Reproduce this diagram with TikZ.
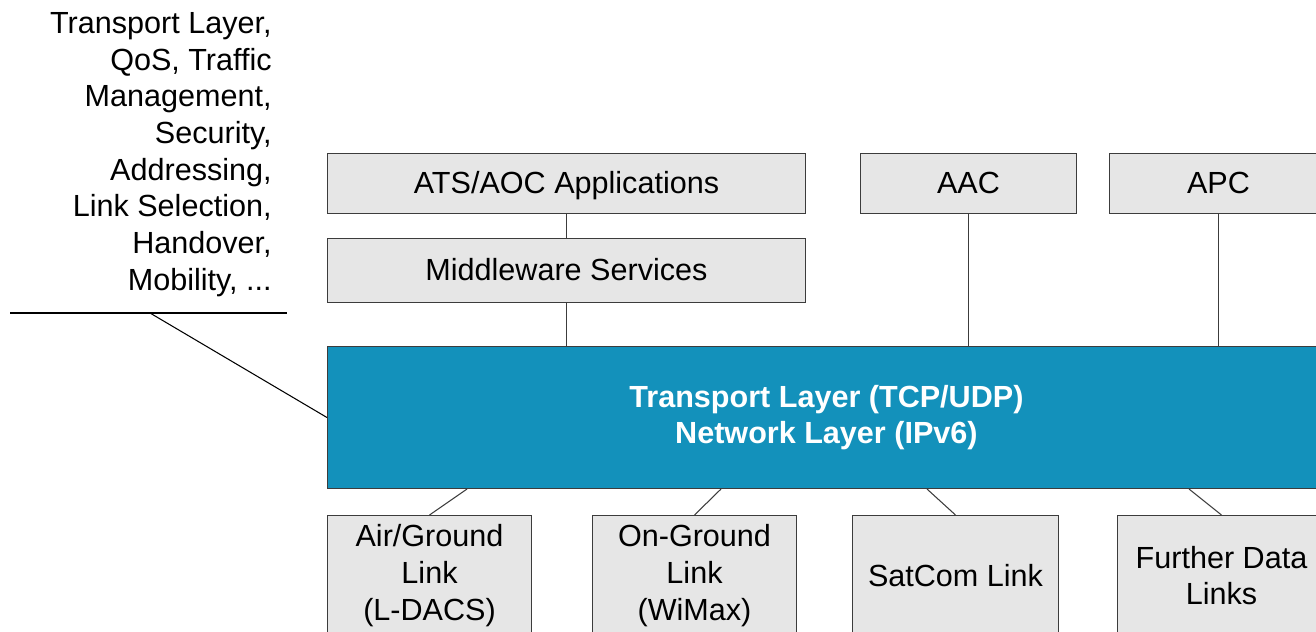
\documentclass[tikz,border=0pt]{standalone}
\usepackage{fontspec}
\setmainfont{Liberation Sans}
\usetikzlibrary{calc}
\definecolor{netblue}{RGB}{19,145,187}
\definecolor{boxgray}{RGB}{230,230,230}
\definecolor{linegray}{RGB}{60,60,60}
\tikzset{
 lbox/.style={draw=linegray,fill=boxgray,line width=0.6pt,anchor=north west,inner sep=0pt,align=center,font=\fontsize{17.4}{20.9}\selectfont},
 topbox/.style={lbox,text height=12.5pt,text depth=1.5pt},
 netbox/.style={lbox,fill=netblue,text=white,font=\fontsize{17.4}{20.9}\selectfont\bfseries},
 conn/.style={draw=linegray,line width=0.6pt},
}
\begin{document}
\begin{tikzpicture}[x=0.02cm,y=-0.02cm]
\useasboundingbox (0,0) rectangle (1316,632);
\clip (0,0) rectangle (1316,632);
% services on top
\node[topbox,minimum width=9.56cm,minimum height=1.2cm](ats) at (327,153) {ATS/AOC Applications};
\node[topbox,minimum width=9.56cm,minimum height=1.28cm](mw) at (327,238) {Middleware Services};
\node[topbox,minimum width=4.32cm,minimum height=1.2cm](aac) at (860,153) {AAC};
\node[topbox,minimum width=4.36cm,minimum height=1.2cm](apc) at (1109,153) {APC};
% transport and network layer
\node[netbox,minimum width=19.96cm,minimum height=2.84cm](net) at (327,346) {Transport Layer (TCP/UDP)\\Network Layer (IPv6)};
\draw[conn](ats.south)--(mw.north);
\draw[conn](mw.south)--(mw.south|-net.north);
\draw[conn](aac.south)--(aac.south|-net.north);
\draw[conn](apc.south)--(apc.south|-net.north);
% data links
\foreach \bx/\bw/\bn/\blb/\bt in {327/4.08/ag/{Air/Ground\\Link\\(L-DACS)}/140,592/4.08/og/{On-Ground\\Link\\(WiMax)}/394,852/4.12/sat/{SatCom Link}/600,1117/4.16/fdl/{Further Data\\Links}/862}{
\node[lbox,minimum width=\bw cm,minimum height=2.4cm](\bn) at (\bx,515) {\blb};
\draw[conn](\bn.north)--($(net.south west)+(\bt,0)$);
}
% functions list
\node[font=\fontsize{17.4}{20.9}\selectfont,align=right,anchor=east,inner sep=0pt](topics) at (272,154.5) {Transport Layer,\\QoS, Traffic\\Management,\\Security,\\Addressing,\\Link Selection,\\Handover,\\Mobility, ...};
\coordinate (tl) at (10,313);
\coordinate (tr) at (287,313);
\coordinate (tk) at (150,313);
\draw[line width=0.6pt](tl)--(tr);
\draw[line width=0.6pt](tk)--(net.west);
\end{tikzpicture}
\end{document}
